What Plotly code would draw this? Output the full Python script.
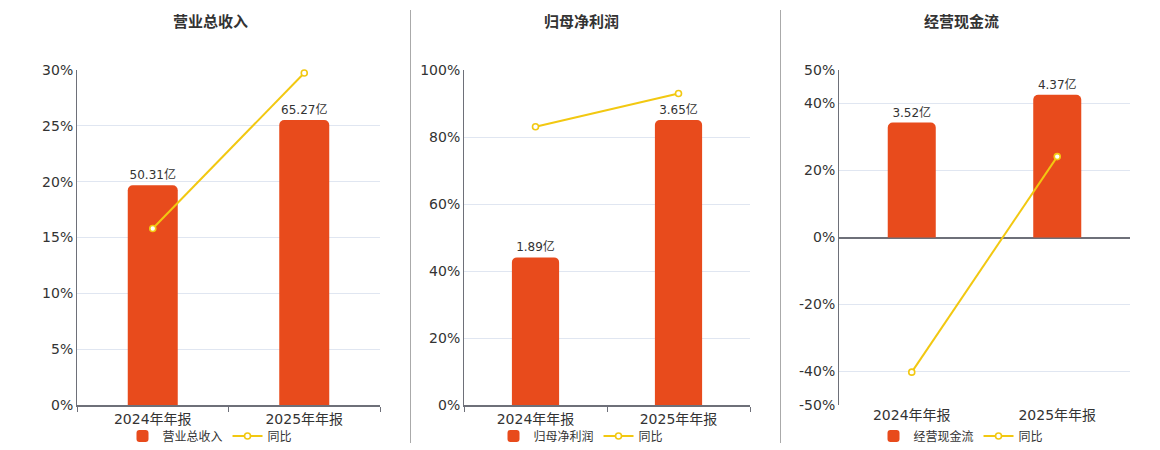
# three small panels: yearly report value (bars) + growth rate (line)
import plotly.graph_objects as go

periods = ["2024年年报", "2025年年报"]
titles = ["营业总收入", "归母净利润", "经营现金流"]

revenue = [50.31, 65.27]
revenue_yoy = [15.8, 29.73]
profit = [1.89, 3.65]
profit_yoy = [83.07, 93.0]
cashflow = [3.52, 4.37]
cashflow_yoy = [-40.2, 24.15]

pct_ticks_1 = [0, 5, 10, 15, 20, 25, 30]
pct_ticks_2 = [0, 20, 40, 60, 80, 100]
pct_ticks_3 = [-50, -40, -20, 0, 20, 40, 50]

W, H = 1160, 450


def px(x):
    return x / W


def py(y):
    return 1 - y / H


BAR = "#E84B1C"
LINE = "#F2C811"
AXIS = "#6E7079"
GRID = "#E0E6F1"
TXT = "#333333"
FONT = "DejaVu Sans, Noto Sans CJK SC, sans-serif"

panels = [
    dict(title=titles[0], bars=revenue, yoy=revenue_yoy, x0=77, x1=380,
         prange=[0, 30], pticks=pct_ticks_1, brange=[0, 76.7], center=210),
    dict(title=titles[1], bars=profit, yoy=profit_yoy, x0=464, x1=750,
         prange=[0, 100], pticks=pct_ticks_2, brange=[0, 4.29], center=581),
    dict(title=titles[2], bars=cashflow, yoy=cashflow_yoy, x0=839, x1=1130,
         prange=[-50, 50], pticks=pct_ticks_3, brange=[-5.13, 5.13], center=961),
]

fig = go.Figure()
layout = dict()
annotations = []

for i, p in enumerate(panels):
    n = i + 1
    xname = "x" if n == 1 else f"x{n}"
    ybar = "y" if n == 1 else f"y{2 * n - 1}"
    ypct = f"y{2 * n}"
    leg = "legend" if n == 1 else f"legend{n}"

    fig.add_trace(go.Bar(
        x=periods, y=p["bars"], name=p["title"],
        xaxis=xname, yaxis=ybar, legend=leg,
        width=0.33,
        marker=dict(color=BAR, cornerradius=5, line=dict(width=0)),
        text=[f"{v:.2f}亿" for v in p["bars"]],
        textposition="outside",
        textfont=dict(size=12, color=TXT, family=FONT),
        cliponaxis=False,
    ))
    fig.add_trace(go.Scatter(
        x=periods, y=p["yoy"], name="同比",
        xaxis=xname, yaxis=ypct, legend=leg,
        mode="lines+markers",
        line=dict(color=LINE, width=2),
        marker=dict(symbol="circle", size=6, color="white",
                    line=dict(color=LINE, width=1.6)),
        cliponaxis=False,
    ))

    xkey = "xaxis" if n == 1 else f"xaxis{n}"
    ybkey = "yaxis" if n == 1 else f"yaxis{2 * n - 1}"
    ypkey = f"yaxis{2 * n}"
    dom_y = [py(405), py(70)]
    bottom_line = n != 3

    layout[xkey] = dict(
        domain=[px(p["x0"]), px(p["x1"])], anchor=ybar, type="category",
        showline=bottom_line, linecolor=AXIS, linewidth=2,
        ticks="outside" if bottom_line else "", tickson="boundaries",
        ticklen=5, tickcolor=AXIS,
        showgrid=False, tickfont=dict(size=14, color=TXT, family=FONT),
        fixedrange=True, automargin=False,
    )
    layout[ybkey] = dict(
        domain=dom_y, anchor=xname, range=p["brange"],
        showgrid=False, showticklabels=False, showline=False,
        zeroline=False, ticks="", fixedrange=True, automargin=False,
    )
    layout[ypkey] = dict(
        overlaying=ybar, anchor=xname, side="left", range=p["prange"],
        tickmode="array", tickvals=p["pticks"],
        ticktext=[f"{v}%" for v in p["pticks"]],
        showgrid=True, gridcolor=GRID, gridwidth=1,
        showline=True, linecolor=AXIS, linewidth=1,
        zeroline=(n == 3), zerolinecolor=AXIS, zerolinewidth=2,
        ticks="", tickfont=dict(size=14, color=TXT, family=FONT),
        fixedrange=True, automargin=False,
    )
    layout[leg] = dict(
        orientation="h", x=px(p["center"]), xanchor="center",
        y=py(436), yanchor="middle", itemwidth=30,
        font=dict(size=12, color=TXT, family=FONT),
        bgcolor="rgba(0,0,0,0)", traceorder="normal",
    )
    annotations.append(dict(
        text=f"<b>{p['title']}</b>", x=px(p["center"]), y=py(22),
        xref="paper", yref="paper", showarrow=False,
        xanchor="center", yanchor="middle",
        font=dict(size=15, color=TXT, family=FONT),
    ))

# axis line with boundary ticks on the zero line of the cash-flow panel
layout["xaxis4"] = dict(
    overlaying="x3", anchor="free", position=py(237.7),
    type="linear", range=[-0.5, 1.5], tickvals=[-0.5, 0.5, 1.5],
    showticklabels=False, showgrid=False, zeroline=False,
    showline=True, linecolor=AXIS, linewidth=2,
    ticks="outside", ticklen=5, tickcolor=AXIS, fixedrange=True,
)

shapes = [
    dict(type="line", xref="paper", yref="paper",
         x0=px(x), x1=px(x), y0=py(10), y1=py(443),
         line=dict(color="#AAAAAA", width=1))
    for x in (410.5, 780.5)
]

fig.update_layout(
    width=W, height=H,
    margin=dict(l=0, r=0, t=0, b=0, pad=0, autoexpand=False),
    paper_bgcolor="white", plot_bgcolor="white",
    font=dict(family=FONT, color=TXT),
    showlegend=True,
    barmode="group",
    annotations=annotations,
    shapes=shapes,
    **layout,
)

# drop the browser's default page margin so the figure sits at (0, 0)
fig.write_html("out.html", config={"displayModeBar": False},
               post_script="document.body.style.margin = '0';")
